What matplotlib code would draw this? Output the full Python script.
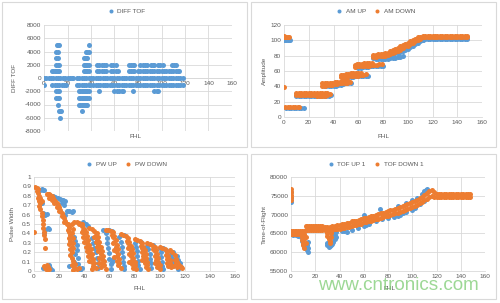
import matplotlib
matplotlib.use("Agg")
import matplotlib.pyplot as plt
from matplotlib.patches import Rectangle

# ---------------- data: DIFF TOF (x values per level) ----------------
diff_levels = [0, 1000, 2000, 3000, 4000, 5000, -1000, -2000, -3000, -4000, -5000, -6000]
diff_x_0 = [0, 2, 4, 6, 8, 10, 12, 14, 16, 18, 20, 22, 24, 25,
            28, 30, 32, 34, 36, 38, 40, 42, 44, 46, 48, 50, 52, 54, 56, 58, 60, 62, 64,
            66, 68, 70, 72, 74, 76, 78, 80, 82, 84, 86, 88, 90, 92, 94, 96, 98, 100,
            102, 104, 106, 108, 110, 112, 114, 116, 118]
diff_x_p1000 = [7, 8, 9, 10, 11, 12, 13, 34, 35, 36, 37, 38, 45, 47, 49, 51, 53,
                57, 59, 61, 63, 72, 74, 76, 77, 80, 82, 84, 86, 88, 90, 92, 94, 96, 98,
                100, 102, 104, 106, 108, 110, 112, 114, 115]
diff_x_p2000 = [10.5, 11.5, 12.5, 34, 35, 36, 37, 38, 45, 47, 49, 51, 53, 57, 59, 61,
                72, 74, 76, 77, 82, 84, 86, 88, 91, 93, 94, 97, 99, 101, 109, 111, 112]
diff_x_p3000 = [10.5, 11.5, 34, 35, 36, 37]
diff_x_p4000 = [10.5, 11.5, 36, 37, 38]
diff_x_p5000 = [11, 12, 13, 38]
diff_x_m1000 = [0, 7, 9, 11, 13, 15, 17, 19, 28, 30, 32, 34, 36, 38, 39, 42, 44, 46, 48,
                50, 52, 54, 56, 58, 60, 62, 64, 66, 68, 70, 72, 74, 76, 78, 80, 82, 84,
                86, 88, 90, 92, 94, 96, 98, 100, 102, 104, 106, 108, 110, 112, 114, 116, 118]
diff_x_m2000 = [10.5, 11.5, 12.5, 30, 31, 32, 33, 34, 35, 36, 37, 38, 47, 60, 62, 64, 66, 67,
                76, 94, 96, 97]
diff_x_m3000 = [10.5, 11.5, 12.5, 30, 31, 32, 33, 34, 35, 36, 37, 38]
diff_x_m4000 = [12, 30, 31, 32, 33, 34, 35, 36, 37]
diff_x_m5000 = [12.5, 13.5, 14.5, 32]
diff_x_m6000 = [14]
diff_rows = [diff_x_0, diff_x_p1000, diff_x_p2000, diff_x_p3000, diff_x_p4000, diff_x_p5000,
             diff_x_m1000, diff_x_m2000, diff_x_m3000, diff_x_m4000, diff_x_m5000, diff_x_m6000]

# ---------------- data: AM UP / AM DOWN ----------------
am_up = [(0, 101), (1, 101), (2, 101), (3, 101), (4, 101), (5, 101), (0, 103),
         (2, 12), (4, 12), (6, 12), (8, 12), (10, 12), (12, 12), (14, 12), (16, 12),
         (10, 27), (12, 27), (14, 27), (16, 27), (18, 27), (20, 27), (22, 27), (24, 27), (26, 27),
         (28, 27), (30, 27), (32, 27), (34, 28), (36, 28), (38, 29),
         (32, 40), (34, 40), (36, 40), (38, 41), (40, 41), (42, 41), (44, 42), (46, 42),
         (48, 43), (50, 44), (52, 44), (54, 45),
         (48, 51), (50, 51), (52, 52), (54, 52), (56, 52), (58, 53), (60, 53), (62, 53),
         (64, 54), (66, 54), (68, 54),
         (58, 65), (60, 64), (62, 64), (64, 65), (66, 65), (68, 65), (70, 66), (72, 66),
         (74, 66), (76, 67), (78, 67), (80, 67),
         (72, 77), (74, 76), (76, 76), (78, 76), (80, 76), (82, 76), (84, 76), (86, 77),
         (88, 77), (90, 77), (92, 78), (94, 78), (96, 79),
         (86, 81), (88, 82), (90, 83), (92, 84), (94, 85), (96, 86), (98, 88), (100, 89),
         (102, 91), (104, 93), (106, 95), (108, 97), (110, 99), (112, 100),
         (112, 101), (114, 102), (116, 102), (118, 102), (120, 102), (122, 102), (124, 102),
         (126, 102), (128, 102), (130, 102), (132, 102), (134, 102), (136, 102), (138, 102),
         (140, 102), (142, 102), (144, 102), (146, 102), (148, 102)]
am_down = [(0, 106), (0, 104), (1, 105), (2, 104), (3, 105), (4, 104), (0, 39),
           (1, 13), (3, 13), (5, 13), (7, 13), (9, 13), (11, 13), (12, 13),
           (10, 29), (10, 31), (12, 29), (12, 31), (14, 29), (14, 31), (16, 29), (16, 31),
           (18, 29), (18, 31), (20, 29), (20, 31), (22, 29), (22, 31), (24, 29), (24, 31), (25, 30),
           (27, 28), (27, 31), (29, 28), (29, 31), (31, 28), (31, 31), (33, 28), (33, 31),
           (35, 29), (35, 31), (37, 30),
           (31, 41), (31, 44), (33, 41), (33, 44), (35, 42), (35, 45), (37, 42), (37, 45),
           (39, 42), (39, 45), (41, 43), (41, 46), (43, 43), (43, 46), (45, 44), (45, 46),
           (47, 44), (47, 47), (49, 45), (49, 47), (51, 45), (51, 48), (53, 46),
           (46, 52), (46, 55), (48, 52), (48, 55), (50, 53), (50, 56), (52, 53), (52, 56),
           (54, 53), (54, 57), (56, 54), (56, 57), (58, 54), (58, 57), (60, 54), (60, 58),
           (62, 55), (62, 57), (64, 55), (66, 56),
           (57, 65), (57, 68), (59, 66), (59, 69), (61, 66), (61, 69), (63, 66), (63, 69),
           (65, 67), (65, 70), (67, 67), (67, 70), (69, 67), (69, 70), (71, 68), (71, 70),
           (73, 68), (75, 68), (77, 69), (79, 69),
           (72, 78), (72, 81), (74, 78), (74, 81), (76, 79), (76, 82), (78, 79), (78, 82),
           (80, 79), (80, 82), (82, 80), (82, 83), (84, 81), (84, 84), (86, 82), (86, 86),
           (88, 83), (88, 87), (90, 85), (90, 89), (92, 86), (92, 90), (94, 88), (94, 92),
           (96, 90), (96, 94), (98, 92), (98, 95), (100, 93), (100, 97), (102, 95), (102, 99),
           (104, 97), (104, 100), (106, 99), (106, 102), (108, 100), (108, 104),
           (110, 102), (110, 105), (112, 104), (112, 106),
           (114, 104), (114, 106), (116, 104), (116, 106), (118, 104), (118, 106),
           (120, 104), (120, 106), (122, 104), (122, 106), (124, 104), (124, 106),
           (126, 104), (126, 106), (128, 104), (128, 106), (130, 104), (130, 106),
           (132, 104), (132, 106), (134, 104), (134, 106), (136, 104), (136, 106),
           (138, 104), (138, 106), (140, 104), (140, 106), (142, 104), (142, 106),
           (144, 104), (144, 106), (146, 104), (146, 106), (148, 104), (148, 106)]

# ---------------- data: PW UP / PW DOWN ----------------
pw_up = [(5, 0.86), (6, 0.87), (7, 0.86), (8, 0.86), (5, 0.74), (6, 0.72), (7, 0.62),
         (8, 0.61), (9, 0.6), (10, 0.61), (11, 0.46), (12, 0.45), (9, 0.44), (8, 0.4),
         (7, 0.03), (13, 0.03), (12, 0.06), (14, 0.01), (28, 0.05), (35, 0.07), (38, 0.03), (37, 0.01),
         (13, 0.8), (15, 0.8), (17, 0.79), (19, 0.78), (21, 0.77), (22, 0.76), (23, 0.76),
         (24, 0.75), (25, 0.75), (22, 0.72), (24, 0.7), (26, 0.64), (28, 0.64), (30, 0.63),
         (31, 0.64), (25, 0.6),
         (32, 0.36), (33, 0.32), (34, 0.28), (34, 0.22), (33, 0.18), (35, 0.14), (32, 0.1),
         (39, 0.52), (41, 0.5), (43, 0.48),
         (46, 0.35), (47, 0.3), (48, 0.25), (49, 0.2), (50, 0.14), (51, 0.08), (51, 0.03),
         (55, 0.44), (57, 0.4), (58, 0.35), (58, 0.3), (59, 0.25), (60, 0.19), (60, 0.13),
         (61, 0.07), (61, 0.02), (62, 0.1), (63, 0.13),
         (60, 0.44), (62, 0.43), (68, 0.36), (69, 0.31), (70, 0.26), (70, 0.2), (71, 0.15),
         (71, 0.1), (72, 0.05), (72, 0.02),
         (72, 0.38), (80, 0.3), (81, 0.26), (82, 0.21), (82, 0.16), (83, 0.11), (83, 0.06), (84, 0.02),
         (85, 0.31), (90, 0.27), (91, 0.23), (92, 0.18), (92, 0.13), (93, 0.08), (93, 0.03),
         (95, 0.28), (100, 0.24), (101, 0.2), (101, 0.15), (102, 0.1), (102, 0.05), (103, 0.02),
         (103, 0.24), (105, 0.22), (109, 0.18), (110, 0.14), (111, 0.1), (111, 0.05),
         (111, 0.2), (114, 0.16), (115, 0.12), (116, 0.08), (117, 0.04), (115, 0.02)]
pw_down = [(0, 0.42), (1, 0.89), (2, 0.88), (3, 0.87), (2, 0.85), (3, 0.83), (4, 0.8), (3, 0.78),
           (4, 0.75), (5, 0.72), (4, 0.69), (5, 0.66), (6, 0.62), (6, 0.58), (7, 0.54), (7, 0.5),
           (7, 0.46), (8, 0.42), (8, 0.38), (9, 0.34), (9, 0.25), (5, 0.78), (6, 0.75),
           (8, 0.05), (9, 0.03), (10, 0.06), (11, 0.04), (12, 0.02), (10, 0.01),
           (30, 0.06), (32, 0.04), (34, 0.02), (33, 0.07), (36, 0.03), (31, 0.01),
           (10, 0.82), (11, 0.82), (12, 0.82), (13, 0.81), (14, 0.8), (15, 0.78), (16, 0.76),
           (17, 0.74), (18, 0.72), (19, 0.7), (20, 0.68), (21, 0.65), (22, 0.62), (23, 0.59),
           (24, 0.56), (25, 0.53), (26, 0.5), (12, 0.78), (14, 0.76), (16, 0.72), (18, 0.68),
           (20, 0.64), (22, 0.58), (24, 0.52),
           (27, 0.5), (28, 0.47), (27, 0.44), (28, 0.41), (29, 0.38), (28, 0.35), (29, 0.32),
           (28, 0.29), (30, 0.26), (29, 0.23), (30, 0.2), (29, 0.17), (30, 0.14), (31, 0.11),
           (30, 0.5), (31, 0.45), (30, 0.4), (31, 0.35), (31, 0.3), (31, 0.25),
           (32, 0.52), (34, 0.52), (36, 0.51), (38, 0.5),
           (36, 0.5), (38, 0.48), (40, 0.45), (41, 0.41), (42, 0.37), (43, 0.33), (44, 0.28),
           (45, 0.23), (46, 0.18), (47, 0.13), (48, 0.08), (49, 0.03), (39, 0.44), (40, 0.4),
           (41, 0.35), (42, 0.3), (43, 0.25), (44, 0.2), (45, 0.15), (46, 0.1), (47, 0.05), (46, 0.02),
           (38, 0.42), (39, 0.36), (40, 0.31), (41, 0.26), (42, 0.21), (43, 0.16), (44, 0.11),
           (44, 0.46), (46, 0.45), (48, 0.43), (50, 0.4), (51, 0.36), (52, 0.31), (53, 0.26),
           (54, 0.21), (55, 0.16), (56, 0.11), (56, 0.06), (57, 0.02), (49, 0.38), (50, 0.33),
           (51, 0.28), (52, 0.23), (53, 0.18), (54, 0.13), (54, 0.08), (53, 0.04),
           (48, 0.36), (49, 0.31), (50, 0.26), (51, 0.21), (52, 0.14), (52, 0.08),
           (57, 0.44), (59, 0.44), (61, 0.43), (63, 0.41), (64, 0.37), (65, 0.33), (66, 0.28),
           (67, 0.23), (67, 0.18), (68, 0.13), (68, 0.08), (69, 0.03), (63, 0.36), (64, 0.31),
           (65, 0.26), (65, 0.21), (66, 0.16), (66, 0.11), (67, 0.06),
           (62, 0.38), (63, 0.3), (64, 0.22), (64, 0.15),
           (69, 0.39), (71, 0.38), (73, 0.37), (75, 0.35), (76, 0.31), (77, 0.27), (78, 0.23),
           (79, 0.19), (79, 0.14), (80, 0.1), (80, 0.06), (81, 0.02), (75, 0.3), (76, 0.26),
           (77, 0.21), (77, 0.16), (78, 0.12), (78, 0.07), (79, 0.03),
           (74, 0.32), (75, 0.25), (76, 0.18), (76, 0.1),
           (80, 0.34), (82, 0.33), (84, 0.32), (86, 0.3), (87, 0.26), (88, 0.22), (89, 0.18),
           (89, 0.14), (90, 0.1), (90, 0.06), (91, 0.02), (86, 0.25), (87, 0.21), (87, 0.16),
           (88, 0.12), (88, 0.08), (89, 0.04), (85, 0.27), (86, 0.2), (86, 0.12),
           (90, 0.3), (92, 0.29), (94, 0.28), (96, 0.26), (97, 0.22), (98, 0.18), (99, 0.14),
           (99, 0.1), (100, 0.06), (100, 0.02), (96, 0.21), (97, 0.17), (97, 0.12), (98, 0.08), (98, 0.04),
           (95, 0.23), (96, 0.16), (96, 0.09),
           (100, 0.26), (102, 0.25), (104, 0.23), (106, 0.2), (107, 0.16), (108, 0.12),
           (108, 0.08), (109, 0.04), (105, 0.17), (106, 0.13), (106, 0.09), (107, 0.05),
           (108, 0.22), (110, 0.2), (112, 0.17), (113, 0.13), (114, 0.1), (115, 0.07),
           (116, 0.05), (117, 0.04), (118, 0.03), (112, 0.12), (113, 0.08), (114, 0.04), (111, 0.05)]

# ---------------- data: TOF UP 1 / TOF DOWN 1 ----------------
tof_up = [(0, 73300), (0, 74500), (0, 76000),
          (2, 64500), (4, 64500), (6, 64300), (8, 64000), (9, 63000), (10, 62200), (11, 61500),
          (12, 61000), (13, 60500), (14, 60100), (14, 61200), (13, 62000), (14, 62800),
          (30, 62500), (30, 61800), (31, 61400), (32, 61600), (33, 62000), (34, 62300),
          (35, 62800), (36, 63500), (37, 64000), (36, 64700), (37, 65300), (33, 64000), (34, 65500),
          (42, 65700), (44, 65600), (46, 65400), (50, 66000), (55, 66500), (60, 67000),
          (62, 67200), (64, 67400), (70, 68300), (75, 68700), (80, 69000), (85, 69300),
          (88, 69600), (90, 70000), (92, 70300), (95, 70600), (100, 71300), (102, 71700),
          (106, 72700), (110, 73500),
          (34, 66000), (60, 70000), (73, 71600), (88, 72400), (95, 73200), (100, 73900),
          (104, 74300), (108, 75600), (110, 76300), (112, 76900), (111, 76500)]
tof_down = [(0, 76700), (0, 76000), (0, 75300), (0, 74600), (0, 74000),
            (0, 65700), (0, 64800), (1.5, 65700), (1.5, 64800), (3, 65700), (3, 64800),
            (4.5, 65700), (4.5, 64800), (6, 65700), (6, 64800), (7.5, 65700), (7.5, 64800),
            (9, 65700), (9, 64800), (10.5, 65700), (10.5, 64800),
            (9, 64000), (9, 63200), (10, 62500), (10, 61800), (11, 61200), (11, 63500),
            (12, 62500), (12, 64000),
            (12, 66900), (12, 66000), (13.5, 66900), (13.5, 66000), (15, 66900), (15, 66000),
            (16.5, 66900), (16.5, 66000), (18, 66900), (18, 66000), (19.5, 66900), (19.5, 66000),
            (21, 66900), (21, 66000), (22.5, 66900), (22.5, 66000), (24, 66900), (24, 66000),
            (25.5, 66900), (25.5, 66000),
            (28, 66800), (28, 65800), (30, 66800), (30, 65800), (32, 66800), (32, 65900),
            (34, 67000), (34, 66000), (36, 67100), (36, 66100), (38, 67200), (38, 66200),
            (40, 67300), (40, 66300), (42, 67400), (42, 66400), (44, 67500), (44, 66500),
            (46, 67700), (46, 66600), (48, 67800), (48, 66800), (50, 68200), (50, 67100),
            (52, 68300), (52, 67200), (54, 68400), (54, 67300), (56, 68600), (56, 67400),
            (58, 68700), (58, 67500), (60, 69100), (60, 68000), (62, 69200), (62, 68100),
            (64, 69300), (64, 68200), (66, 69500), (66, 68400), (68, 69600), (68, 68500),
            (70, 69900), (70, 68700), (72, 70100), (72, 68900), (74, 70300), (74, 69100),
            (76, 70500), (76, 69300), (78, 70700), (78, 69500), (80, 70900), (80, 69700),
            (82, 71100), (82, 69900), (84, 71300), (84, 70100), (86, 71500), (86, 70300),
            (88, 71800), (88, 70500), (90, 72000), (90, 70800), (92, 72200), (92, 71000),
            (94, 72500), (94, 71200), (96, 72700), (96, 71500), (98, 73000), (98, 71700),
            (100, 73300), (100, 72000), (102, 73600), (102, 72300), (104, 73900), (104, 72600),
            (106, 74300), (106, 73000), (108, 74700), (108, 73400), (110, 75200), (110, 73800),
            (112, 75700), (112, 74200), (114, 76200), (114, 74600), (116, 76500), (116, 74900),
            (118, 76000), (118, 74800),
            (30, 65000), (30, 64200), (31, 63500), (32, 63000), (32, 62500), (33, 64000), (33, 65000),
            (120, 75600), (120, 74800), (122, 75600), (122, 74800), (124, 75600), (124, 74800),
            (126, 75600), (126, 74800), (128, 75600), (128, 74800), (130, 75600), (130, 74800),
            (132, 75600), (132, 74800), (134, 75600), (134, 74800), (136, 75600), (136, 74800),
            (138, 75600), (138, 74800), (140, 75600), (140, 74800), (142, 75600), (142, 74800),
            (144, 75600), (144, 74800), (146, 75600), (146, 74800), (148, 75600), (148, 74800)]

BLUE = "#5B9BD5"
ORANGE = "#ED7D31"
GRID = "#D9D9D9"
TXT = "#595959"
FS = 4.6
MS = 13

plt.rcParams["font.family"] = ["Liberation Sans", "DejaVu Sans"]

W, H = 500, 303
fig = plt.figure(figsize=(5.0, 3.03), dpi=100)


def px_axes(x0, y0, x1, y1):
    return fig.add_axes([x0 / W, 1 - y1 / H, (x1 - x0) / W, (y1 - y0) / H])


def style(ax, xlim, ylim, yticks, ylabels):
    ax.set_xlim(*xlim)
    ax.set_ylim(*ylim)
    ax.set_xticks(range(0, 161, 20))
    ax.set_yticks(yticks)
    ax.set_yticklabels(ylabels)
    ax.grid(True, color=GRID, lw=0.6)
    ax.set_axisbelow(True)
    for s in ax.spines.values():
        s.set_visible(False)
    ax.spines["bottom"].set_visible(True)
    ax.spines["bottom"].set_color(GRID)
    ax.spines["bottom"].set_linewidth(0.6)
    ax.tick_params(length=0, labelsize=FS, labelcolor=TXT, pad=2)
    ax.patch.set_alpha(0)


def scatter(ax, pts, color, label):
    xs = [p[0] for p in pts]
    ys = [p[1] for p in pts]
    ax.scatter(xs, ys, s=MS, color=color, linewidths=0, zorder=3, label=label)


def legend(ax, cx, cy):
    ax.legend(loc="center", bbox_to_anchor=(cx / W, 1 - cy / H), bbox_transform=fig.transFigure,
              ncol=2, frameon=False, fontsize=FS, labelcolor=TXT, handletextpad=0.05,
              columnspacing=0.8, borderpad=0, markerscale=0.8)


# panel borders
for (x0, y0, x1, y1) in [(2, 2, 247, 147), (251, 2, 496, 147), (2, 154, 247, 299), (251, 154, 496, 299)]:
    fig.add_artist(Rectangle((x0 / W, 1 - y1 / H), (x1 - x0) / W, (y1 - y0) / H,
                             transform=fig.transFigure, fill=False, edgecolor=GRID, lw=0.8))

# chart 1: DIFF TOF
ax1 = px_axes(44, 25, 232, 131)
style(ax1, (0, 160), (-8000, 8000), range(-8000, 8001, 2000),
      [str(v) for v in range(-8000, 8001, 2000)])
ax1.spines["bottom"].set_position(("data", 0))
first = True
for lvl, xs in zip(diff_levels, diff_rows):
    ax1.scatter(xs, [lvl] * len(xs), s=MS, color=BLUE, linewidths=0, zorder=3,
                label="DIFF TOF" if first else None)
    first = False
legend(ax1, 125, 11)
fig.text(136 / W, 1 - 137 / H, "FHL", fontsize=FS, color=TXT, ha="center", va="center")
fig.text(15 / W, 1 - 78 / H, "DIFF TOF", fontsize=FS, color=TXT, ha="center", va="center", rotation=90)

# chart 2: amplitude
ax2 = px_axes(284, 25, 482, 117)
style(ax2, (0, 160), (0, 120), range(0, 121, 20), [str(v) for v in range(0, 121, 20)])
scatter(ax2, am_up, BLUE, "AM UP")
scatter(ax2, am_down, ORANGE, "AM DOWN")
legend(ax2, 374, 11)
fig.text(383 / W, 1 - 137 / H, "FHL", fontsize=FS, color=TXT, ha="center", va="center")
fig.text(264 / W, 1 - 71 / H, "Amplitude", fontsize=FS, color=TXT, ha="center", va="center", rotation=90)

# chart 3: pulse width
ax3 = px_axes(34, 177, 235, 271)
pw_ticks = [0, 0.1, 0.2, 0.3, 0.4, 0.5, 0.6, 0.7, 0.8, 0.9, 1.0]
pw_labels = ["0", "0.1", "0.2", "0.3", "0.4", "0.5", "0.6", "0.7", "0.8", "0.9", "1"]
style(ax3, (0, 160), (0, 1), pw_ticks, pw_labels)
scatter(ax3, pw_up, BLUE, "PW UP")
scatter(ax3, pw_down, ORANGE, "PW DOWN")
legend(ax3, 125, 164)
fig.text(139 / W, 1 - 289 / H, "FHL", fontsize=FS, color=TXT, ha="center", va="center")
fig.text(13 / W, 1 - 224 / H, "Pulse Width", fontsize=FS, color=TXT, ha="center", va="center", rotation=90)

# chart 4: time of flight
ax4 = px_axes(291, 177, 485, 271)
style(ax4, (0, 160), (55000, 80000), range(55000, 80001, 5000),
      [str(v) for v in range(55000, 80001, 5000)])
scatter(ax4, tof_up, BLUE, "TOF UP 1")
scatter(ax4, tof_down, ORANGE, "TOF DOWN 1")
legend(ax4, 374, 164)
fig.text(389 / W, 1 - 288 / H, "FHL", fontsize=FS, color=TXT, ha="center", va="center")
fig.text(264 / W, 1 - 224 / H, "Time-of-Flight", fontsize=FS, color=TXT, ha="center", va="center", rotation=90)

# watermark
fig.text(398 / W, 1 - 285 / H, "www.cntronics.com", fontsize=13.6, color="#7CCB72", alpha=0.75,
         ha="center", va="center")

fig.savefig("out.png", dpi=100)
